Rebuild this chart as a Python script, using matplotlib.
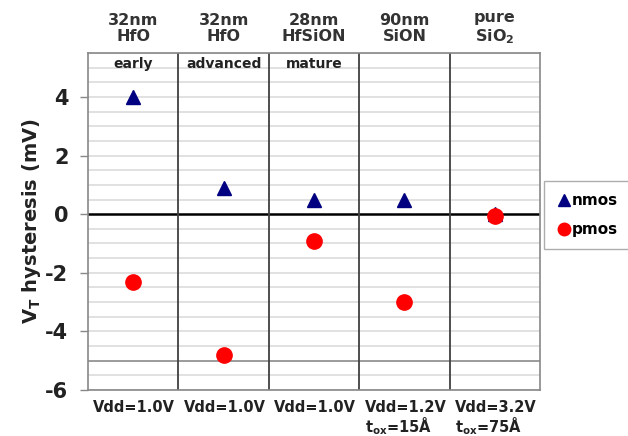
import matplotlib
matplotlib.use('Agg')
import matplotlib.pyplot as plt
from matplotlib.lines import Line2D

# data
headers = ['32nm\nHfO', '32nm\nHfO', '28nm\nHfSiON', '90nm\nSiON', 'pure\nSiO$_\\mathbf{2}$']
stages = ['early', 'advanced', 'mature', '', '']
conditions = ['Vdd=1.0V', 'Vdd=1.0V', 'Vdd=1.0V',
              'Vdd=1.2V\n$\\mathbf{t_{ox}}$=15Å', 'Vdd=3.2V\n$\\mathbf{t_{ox}}$=75Å']
nmos = [4.0, 0.9, 0.5, 0.5, 0.0]
pmos = [-2.3, -4.8, -0.9, -3.0, -0.05]
yticks = [4, 2, 0, -2, -4, -6]

plt.rcParams['font.family'] = 'DejaVu Sans'
plt.rcParams['mathtext.fontset'] = 'dejavusans'
plt.rcParams['axes.unicode_minus'] = False

fig = plt.figure(figsize=(6.28, 4.36), dpi=100)
ax = fig.add_axes([0.140, 0.1055, 0.720, 0.7729])

n = len(headers)
xs = [i + 0.5 for i in range(n)]

# light grid every 0.5
y = -6.0
while y <= 5.5:
    if abs(y) > 1e-9 and abs(y + 5) > 1e-9:
        ax.axhline(y, color='#dcdcdc', lw=1.2, zorder=0)
    y += 0.5
ax.axhline(-5, color='#8a8a8a', lw=1.2, zorder=1)
ax.axhline(0, color='black', lw=1.8, zorder=2)
for i in range(1, n):
    ax.axvline(i, color='#404040', lw=1.3, zorder=2)

ax.plot(xs, nmos, linestyle='none', marker='^', color='#000080', markersize=10, zorder=3)
ax.plot(xs, pmos, linestyle='none', marker='o', color='#ff0000', markersize=11, zorder=4)

ax.set_xlim(0, n)
ax.set_ylim(-6, 5.5)
ax.set_xticks([])
ax.set_yticks(yticks)
ax.tick_params(axis='y', length=6, width=1, color='#888888', labelsize=15, pad=8)
for lbl in ax.get_yticklabels():
    lbl.set_fontweight('bold')
    lbl.set_color('#222222')
for s in ax.spines.values():
    s.set_color('#888888')
    s.set_linewidth(1.2)

ax.set_ylabel('$\\mathbf{V_T}$ hysteresis (mV)', fontsize=14, fontweight='bold',
              color='#222222', labelpad=2)

for i in range(n):
    ax.text(xs[i], 1.036, headers[i], transform=ax.get_xaxis_transform(),
            ha='center', va='baseline', fontsize=11.5, fontweight='bold',
            color='#333333', linespacing=1.1)
    if stages[i]:
        ax.text(xs[i], 5.12, stages[i], ha='center', va='center',
                fontsize=10, fontweight='bold', color='#222222')
    ax.text(xs[i] - 0.44, -0.03, conditions[i], transform=ax.get_xaxis_transform(),
            ha='left', va='top', fontsize=10.5, fontweight='bold',
            color='#222222', linespacing=1.0)

handles = [Line2D([], [], linestyle='none', marker='^', color='#000080', markersize=8),
           Line2D([], [], linestyle='none', marker='o', color='#ff0000', markersize=9)]
leg = fig.legend(handles, ['nmos', 'pmos'], loc='upper left',
                 bbox_to_anchor=(0.866, 0.585), frameon=True, fancybox=False,
                 handletextpad=0.0, labelspacing=0.9, borderpad=0.8,
                 borderaxespad=0.0, handlelength=1.0,
                 prop={'weight': 'bold', 'size': 11})
leg.get_frame().set_edgecolor('#999999')
leg.get_frame().set_linewidth(1.0)

fig.savefig('out.png', dpi=100)
